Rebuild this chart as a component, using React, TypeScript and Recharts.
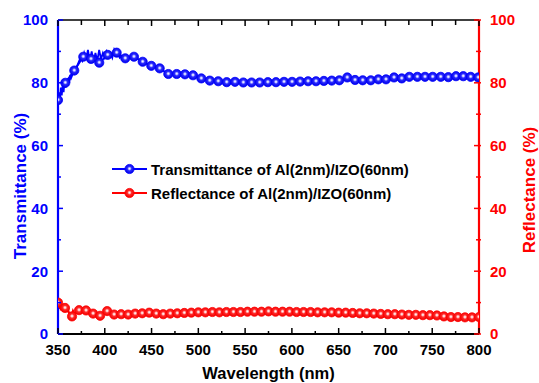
import React from 'react';
import { ComposedChart, Line, XAxis, YAxis, Legend, Label } from 'recharts';

const BLUE = '#0000ff';
const RED = '#ff0000';
const FONT = '"Liberation Sans", Arial, Helvetica, sans-serif';

// X axis ticks (major every 50 nm, minor every 25 nm)
const xTicks = [350, 375, 400, 425, 450, 475, 500, 525, 550, 575, 600, 625, 650, 675, 700, 725, 750, 775, 800];
// Y axis ticks (major every 20 %, minor every 10 %)
const yTicks = [0, 10, 20, 30, 40, 50, 60, 70, 80, 90, 100];

// Transmittance markers
const transWl = [350, 357.8, 367.4, 377.0, 385.3, 394.1, 403.1, 412.7, 421.9, 431.2, 440.5, 449.7, 458.7, 467.9, 476.9, 485.7, 494.3, 503.2, 512.2, 521.3, 530.3, 539.2, 548.1, 556.9, 565.6, 574.3, 583.0, 591.6, 600.2, 608.8, 617.3, 625.8, 634.2, 642.6, 650.7, 659.2, 667.5, 675.7, 684.3, 692.4, 700.6, 709.2, 717.4, 725.5, 734.1, 742.3, 750.5, 759.1, 767.2, 775.4, 783.2, 791.1, 799.2];
const transVals = [74.5, 80.0, 83.9, 88.3, 87.6, 86.4, 88.9, 89.6, 87.8, 88.3, 86.7, 85.4, 84.6, 82.8, 82.8, 82.7, 82.4, 81.4, 80.7, 80.5, 80.2, 80.3, 80.1, 80.1, 80.1, 80.2, 80.2, 80.3, 80.3, 80.4, 80.5, 80.5, 80.6, 80.7, 80.8, 81.7, 80.9, 80.8, 80.8, 81.1, 81.1, 81.7, 81.4, 81.9, 81.9, 81.9, 81.9, 81.9, 81.8, 82.1, 82.1, 81.9, 81.7];

// Noisy short-wavelength part of transmittance (no markers)
const transNoiseWl = [350, 351, 352, 353, 354, 355, 356, 357, 358, 359, 360, 361, 362, 363, 364, 366, 368, 370, 372, 374, 376, 378, 380, 382, 384, 386, 388, 390, 392, 394, 396, 398, 400, 402, 404, 406, 408, 410, 412, 414, 416, 418, 420];
const transNoiseVals = [73.5, 77, 74.5, 78.5, 76, 79.5, 77, 81, 78.5, 80.5, 79, 81.5, 80, 82.5, 81.5, 83, 84, 85, 86.5, 88, 87, 89.5, 87.5, 90.5, 87, 90, 86.5, 89.5, 87, 90.5, 87.5, 89.5, 88, 90, 88.5, 89.5, 88, 90.5, 89, 89.5, 88, 88.5, 88];

// Reflectance markers
const reflWl = [350, 357.5, 365, 372.5, 380, 387.5, 395, 402.5, 410, 417.5, 425, 432.5, 440, 447.5, 455, 462.5, 470, 477.5, 485, 492.5, 500, 507.5, 515, 522.5, 530, 537.5, 545, 552.5, 560, 567.5, 575, 582.5, 590, 597.5, 605, 612.5, 620, 627.5, 635, 642.5, 650, 657.5, 665, 672.5, 680, 687.5, 695, 702.5, 710, 717.5, 725, 732.5, 740, 747.5, 755, 762.5, 770, 777.5, 785, 792.5, 800];
const reflVals = [10.0, 8.3, 5.6, 7.6, 7.5, 6.5, 5.8, 7.3, 6.2, 6.3, 6.2, 6.5, 6.6, 6.8, 6.5, 6.3, 6.5, 6.6, 6.7, 6.8, 6.9, 6.9, 7.0, 6.9, 7.0, 7.0, 7.0, 7.1, 7.1, 7.1, 7.2, 7.1, 7.1, 7.1, 7.0, 7.0, 7.0, 6.9, 6.9, 6.9, 6.8, 6.8, 6.7, 6.6, 6.6, 6.5, 6.4, 6.3, 6.3, 6.2, 6.1, 6.1, 6.0, 6.0, 5.9, 5.6, 5.4, 5.4, 5.3, 5.3, 5.4];

// Noisy short-wavelength part of reflectance (no markers)
const reflNoiseWl = [350, 351, 352, 353, 354, 355, 356, 358, 360, 362, 364, 366, 368, 370];
const reflNoiseVals = [10.5, 8, 10, 7.5, 9.5, 8, 9, 7.5, 8.5, 6.5, 5, 7.5, 6.5, 7.5];

const seriesNames = ['Transmittance of Al(2nm)/IZO(60nm)', 'Reflectance of Al(2nm)/IZO(60nm)'];

const transData = transWl.map((wl, i) => ({ wl, v: transVals[i] }));
const transNoise = transNoiseWl.map((wl, i) => ({ wl, v: transNoiseVals[i] }));
const reflData = reflWl.map((wl, i) => ({ wl, v: reflVals[i] }));
const reflNoise = reflNoiseWl.map((wl, i) => ({ wl, v: reflNoiseVals[i] }));

const BottomTick = (props: any) => {
  const { x, y, payload } = props;
  const v = payload.value;
  const major = v % 50 === 0;
  return (
    <g>
      <line x1={x} x2={x} y1={y} y2={y - (major ? 6 : 3)} stroke="#000" strokeWidth={1.5} />
      {major && (
        <text x={x} y={y + 20.5} textAnchor="middle" fontFamily={FONT} fontWeight="bold" fontSize={15} fill="#000">
          {v}
        </text>
      )}
    </g>
  );
};

const TopTick = (props: any) => {
  const { x, y, payload } = props;
  const major = payload.value % 50 === 0;
  return <line x1={x} x2={x} y1={y} y2={y + (major ? 6 : 5)} stroke="#000" strokeWidth={1.5} />;
};

const LeftTick = (props: any) => {
  const { x, y, payload } = props;
  const v = payload.value;
  const major = v % 20 === 0;
  return (
    <g>
      <line x1={x} x2={x + (major ? 5 : 3)} y1={y} y2={y} stroke={BLUE} strokeWidth={1.5} />
      {major && (
        <text x={x - 10} y={y + 5.3} textAnchor="end" fontFamily={FONT} fontWeight="bold" fontSize={15} fill={BLUE}>
          {v}
        </text>
      )}
    </g>
  );
};

const RightTick = (props: any) => {
  const { x, y, payload } = props;
  const v = payload.value;
  const major = v % 20 === 0;
  return (
    <g>
      <line x1={x - (major ? 5 : 3)} x2={x + 2} y1={y} y2={y} stroke={RED} strokeWidth={1.5} />
      {major && (
        <text x={x + 11} y={y + 5.3} textAnchor="start" fontFamily={FONT} fontWeight="bold" fontSize={15} fill={RED}>
          {v}
        </text>
      )}
    </g>
  );
};

const Gradients = ({ prefix }: { prefix: string }) => (
  <defs>
    <radialGradient id={prefix + 'Blue'} cx="50%" cy="46%" r="52%">
      <stop offset="0%" stopColor="#ffffff" />
      <stop offset="18%" stopColor="#c8ccff" />
      <stop offset="45%" stopColor="#2a2aff" />
      <stop offset="100%" stopColor="#0000e6" />
    </radialGradient>
    <radialGradient id={prefix + 'Red'} cx="50%" cy="46%" r="52%">
      <stop offset="0%" stopColor="#ffffff" />
      <stop offset="18%" stopColor="#ffcccc" />
      <stop offset="45%" stopColor="#ff2a2a" />
      <stop offset="100%" stopColor="#f00000" />
    </radialGradient>
  </defs>
);

const LegendContent = () => (
  <svg width={330} height={52} style={{ display: 'block', overflow: 'visible' }}>
    <Gradients prefix="lg" />
    <line x1={7} x2={42} y1={14} y2={14} stroke={BLUE} strokeWidth={2} />
    <circle cx={24.5} cy={14} r={4.6} fill="url(#lgBlue)" stroke={BLUE} strokeWidth={0.8} />
    <text x={46} y={20} fontFamily={FONT} fontWeight="bold" fontSize={15} fill="#000">{seriesNames[0]}</text>
    <line x1={7} x2={42} y1={38} y2={38} stroke={RED} strokeWidth={2} />
    <circle cx={24.5} cy={38} r={4.6} fill="url(#lgRed)" stroke={RED} strokeWidth={0.8} />
    <text x={46} y={44} fontFamily={FONT} fontWeight="bold" fontSize={15} fill="#000">{seriesNames[1]}</text>
  </svg>
);

export default function App() {
  return (
    <div style={{ position: 'absolute', left: 0, top: 0, width: 539, height: 383, background: '#fff' }}>
      <ComposedChart width={539} height={383} margin={{ top: 19, right: 20, bottom: 19, left: 18 }}>
        <Gradients prefix="g" />
        <XAxis
          xAxisId="bottom"
          dataKey="wl"
          type="number"
          domain={[350, 800]}
          ticks={xTicks}
          interval={0}
          height={30}
          tickSize={0}
          tickMargin={0}
          tickLine={false}
          tick={BottomTick}
          axisLine={{ stroke: '#000', strokeWidth: 2 }}
          allowDataOverflow
        >
          <Label
            content={() => (
              <text x={268.5} y={379} textAnchor="middle" fontFamily={FONT} fontWeight="bold" fontSize={16.5} fill="#000">
                Wavelength (nm)
              </text>
            )}
          />
        </XAxis>
        <XAxis
          xAxisId="top"
          orientation="top"
          dataKey="wl"
          type="number"
          domain={[350, 800]}
          ticks={xTicks}
          interval={0}
          height={1}
          tickSize={0}
          tickMargin={0}
          tickLine={false}
          tick={TopTick}
          axisLine={{ stroke: '#000', strokeWidth: 1.5 }}
          allowDataOverflow
        />
        <YAxis
          yAxisId="left"
          orientation="left"
          type="number"
          domain={[0, 100]}
          ticks={yTicks}
          interval={0}
          width={40}
          tickSize={0}
          tickMargin={0}
          tickLine={false}
          tick={LeftTick}
          axisLine={{ stroke: BLUE, strokeWidth: 2.2 }}
          allowDataOverflow
        >
          <Label
            content={() => (
              <text
                x={26}
                y={186}
                transform="rotate(-90 26 186)"
                textAnchor="middle"
                fontFamily={FONT}
                fontWeight="bold"
                fontSize={17}
                fill={BLUE}
              >
                Transmittance (%)
              </text>
            )}
          />
        </YAxis>
        <YAxis
          yAxisId="right"
          orientation="right"
          type="number"
          domain={[0, 100]}
          ticks={yTicks}
          interval={0}
          width={40}
          tickSize={0}
          tickMargin={0}
          tickLine={false}
          tick={RightTick}
          axisLine={{ stroke: RED, strokeWidth: 2.2 }}
          allowDataOverflow
        >
          <Label
            content={() => (
              <text
                x={535}
                y={190}
                transform="rotate(-90 535 190)"
                textAnchor="middle"
                fontFamily={FONT}
                fontWeight="bold"
                fontSize={17}
                fill={RED}
              >
                Reflectance (%)
              </text>
            )}
          />
        </YAxis>
        <Legend
          layout="horizontal"
          verticalAlign="middle"
          align="center"
          content={LegendContent}
          wrapperStyle={{ position: 'absolute', left: 105, top: 155, width: 330, height: 52 }}
        />
        <Line
          xAxisId="bottom"
          yAxisId="left"
          data={transNoise}
          dataKey="v"
          stroke={BLUE}
          strokeWidth={1.8}
          dot={false}
          activeDot={false}
          isAnimationActive={false}
          legendType="none"
        />
        <Line
          xAxisId="bottom"
          yAxisId="left"
          data={transData}
          dataKey="v"
          name={seriesNames[0]}
          stroke={BLUE}
          strokeWidth={2}
          dot={{ r: 4.6, fill: 'url(#gBlue)', stroke: BLUE, strokeWidth: 0.8 }}
          activeDot={false}
          isAnimationActive={false}
        />
        <Line
          xAxisId="bottom"
          yAxisId="right"
          data={reflNoise}
          dataKey="v"
          stroke={RED}
          strokeWidth={1.8}
          dot={false}
          activeDot={false}
          isAnimationActive={false}
          legendType="none"
        />
        <Line
          xAxisId="bottom"
          yAxisId="right"
          data={reflData}
          dataKey="v"
          name={seriesNames[1]}
          stroke={RED}
          strokeWidth={2}
          dot={{ r: 4.6, fill: 'url(#gRed)', stroke: RED, strokeWidth: 0.8 }}
          activeDot={false}
          isAnimationActive={false}
        />
      </ComposedChart>
    </div>
  );
}
